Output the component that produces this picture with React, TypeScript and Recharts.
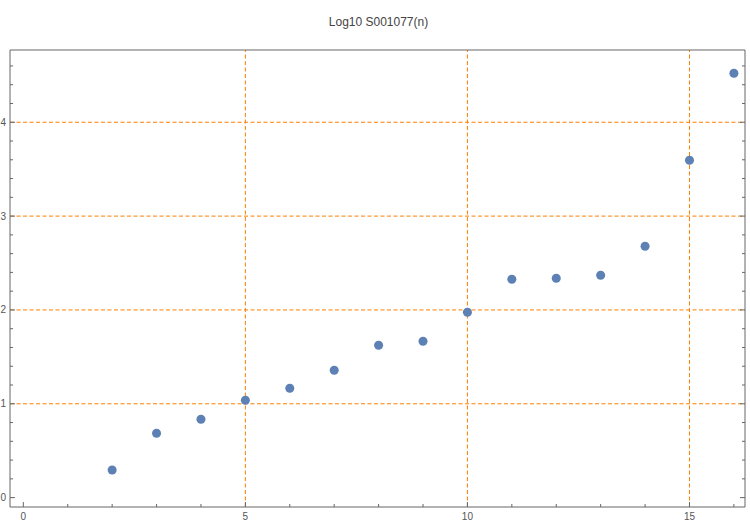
import React from 'react';
import { ScatterChart, Scatter, XAxis, YAxis, ReferenceLine } from 'recharts';

const nValues = [2, 3, 4, 5, 6, 7, 8, 9, 10, 11, 12, 13, 14, 15, 16];
const logValues = [0.295, 0.686, 0.835, 1.038, 1.166, 1.357, 1.624, 1.666, 1.975, 2.327, 2.338, 2.37, 2.679, 3.595, 4.522];

const xTicks = [0, 1, 2, 3, 4, 5, 6, 7, 8, 9, 10, 11, 12, 13, 14, 15, 16];
const xLabelTicks = [0, 5, 10, 15];
const yTicks = [0, 0.2, 0.4, 0.6, 0.8, 1, 1.2, 1.4, 1.6, 1.8, 2, 2.2, 2.4, 2.6, 2.8, 3, 3.2, 3.4, 3.6, 3.8, 4, 4.2, 4.4, 4.6];
const yLabelTicks = [0, 1, 2, 3, 4];
const xGrid = [5, 10, 15];
const yGrid = [1, 2, 3, 4];

const data = nValues.map((n, i) => ({ n, v: logValues[i] }));

const AXIS = '#666666';
const LABEL = '#555555';
const GRID = '#ff7f00';
const FONT = '"Liberation Sans", Arial, sans-serif';

const isMajor = (v: number, list: number[]) => list.some(t => Math.abs(t - v) < 1e-6);

const BottomTick = ({ x, y, payload }: any) => {
  const major = isMajor(payload.value, xLabelTicks);
  return (
    <g>
      <line x1={x} y1={y} x2={x} y2={y - (major ? 5 : 3)} stroke={AXIS} />
      {major && (
        <text x={x} y={y + 13} textAnchor="middle" fontSize={10} fill={LABEL} fontFamily={FONT}>
          {payload.value}
        </text>
      )}
    </g>
  );
};

const TopTick = ({ x, y, payload }: any) => {
  const major = isMajor(payload.value, xLabelTicks);
  return <line x1={x} y1={y} x2={x} y2={y + (major ? 5 : 3)} stroke={AXIS} />;
};

const LeftTick = ({ x, y, payload }: any) => {
  const major = isMajor(payload.value, yLabelTicks);
  return (
    <g>
      <line x1={x} y1={y} x2={x + (major ? 5 : 3)} y2={y} stroke={AXIS} />
      {major && (
        <text x={x - 4} y={y + 3.5} textAnchor="end" fontSize={10} fill={LABEL} fontFamily={FONT}>
          {payload.value}
        </text>
      )}
    </g>
  );
};

const RightTick = ({ x, y, payload }: any) => {
  const major = isMajor(payload.value, yLabelTicks);
  return <line x1={x} y1={y} x2={x - (major ? 5 : 3)} y2={y} stroke={AXIS} />;
};

export default function App() {
  return (
    <div style={{ position: 'absolute', left: 0, top: 0, width: 750, height: 525, background: '#fff' }}>
      <div
        style={{
          position: 'absolute',
          left: 0,
          width: 757,
          top: 15,
          textAlign: 'center',
          fontFamily: FONT,
          fontSize: 12,
          color: '#444',
        }}
      >
        Log10 S001077(n)
      </div>
      <ScatterChart width={750} height={525} margin={{ top: 0, right: 0, bottom: 0, left: 0 }}>
        <XAxis
          dataKey="n"
          type="number"
          domain={[-0.3, 16.25]}
          allowDataOverflow
          ticks={xTicks}
          interval={0}
          height={18}
          tickSize={0}
          tickMargin={0}
          tickLine={false}
          stroke={AXIS}
          tick={<BottomTick />}
        />
        <XAxis
          xAxisId="top"
          orientation="top"
          type="number"
          domain={[-0.3, 16.25]}
          allowDataOverflow
          ticks={xTicks}
          interval={0}
          height={50}
          tickSize={0}
          tickMargin={0}
          tickLine={false}
          stroke={AXIS}
          tick={<TopTick />}
        />
        <YAxis
          dataKey="v"
          type="number"
          domain={[-0.1, 4.77]}
          allowDataOverflow
          ticks={yTicks}
          interval={0}
          width={10}
          tickSize={0}
          tickMargin={0}
          tickLine={false}
          stroke={AXIS}
          tick={<LeftTick />}
        />
        <YAxis
          yAxisId="right"
          orientation="right"
          type="number"
          domain={[-0.1, 4.77]}
          allowDataOverflow
          ticks={yTicks}
          interval={0}
          width={5}
          tickSize={0}
          tickMargin={0}
          tickLine={false}
          stroke={AXIS}
          tick={<RightTick />}
        />
        {xGrid.map(v => (
          <ReferenceLine key={`x${v}`} x={v} stroke={GRID} strokeDasharray="4 2.5" />
        ))}
        {yGrid.map(v => (
          <ReferenceLine key={`y${v}`} y={v} stroke={GRID} strokeDasharray="4 2.5" />
        ))}
        <Scatter data={data} fill="#5e81b5" shape="circle" isAnimationActive={false} />
      </ScatterChart>
    </div>
  );
}
